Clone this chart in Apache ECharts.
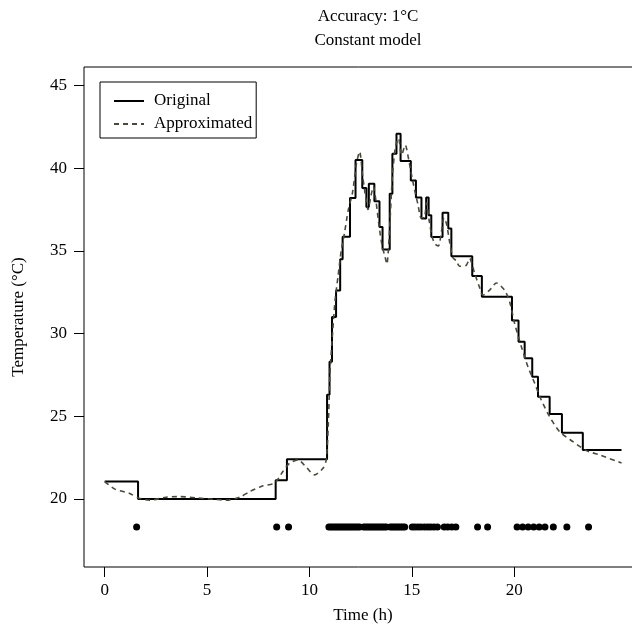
<!DOCTYPE html>
<html>
<head>
<meta charset="utf-8">
<script src="https://cdn.jsdelivr.net/npm/echarts@6/dist/echarts.min.js"></script>
<style>
  html, body { margin: 0; padding: 0; background: #fff; }
  #chart { width: 632px; height: 633px; }
</style>
</head>
<body>
<div id="chart"></div>
<script>
// original sensor signal: time of each change (h) and new value (°C)
const origT = [0, 1.63, 8.35, 8.9, 10.86, 10.98, 11.1, 11.3, 11.5, 11.62,
  11.98, 12.25, 12.58, 12.78, 12.9, 13.17, 13.42, 13.57, 13.92, 14.05,
  14.25, 14.45, 14.95, 15.2, 15.47, 15.7, 15.82, 15.95, 16.5, 16.78,
  16.93, 17.95, 18.42, 19.89, 20.21, 20.51, 20.88, 21.16, 21.73, 22.33,
  23.35, 25.24];
const origV = [21.05, 20.0, 21.12, 22.4, 26.3, 28.3, 31.0, 32.6, 34.5, 35.85,
  38.2, 40.5, 38.8, 37.65, 39.06, 38.0, 36.44, 35.08, 38.46, 40.88,
  42.08, 40.43, 39.26, 38.22, 36.95, 38.22, 37.15, 35.84, 37.31, 36.35,
  34.67, 33.48, 32.22, 30.79, 29.5, 28.5, 27.39, 26.18, 25.13, 24.0,
  22.96, 22.96];

// approximated curve
const approxT = [0, 0.5, 1.2, 1.67, 2.2, 3.0, 3.66, 4.48, 5.3, 5.95,
  6.6, 7.08, 7.73, 8.3, 8.7, 9.03, 9.44, 9.85, 10.25, 10.66,
  10.82, 10.92, 11.0, 11.1, 11.25, 11.4, 11.55, 11.7, 11.9, 12.1,
  12.3, 12.45, 12.6, 12.75, 12.86, 13.0, 13.12, 13.25, 13.4, 13.55,
  13.7, 13.78, 13.9, 14.05, 14.2, 14.35, 14.5, 14.68, 14.85, 15.0,
  15.15, 15.3, 15.45, 15.6, 15.72, 15.85, 16.0, 16.15, 16.3, 16.45,
  16.57, 16.7, 16.85, 17.0, 17.17, 17.33, 17.66, 17.82, 18.07, 18.3,
  18.47, 18.8, 19.13, 19.53, 19.78, 20.02, 20.35, 20.67, 21.0, 21.32,
  21.73, 22.22, 22.87, 23.52, 24.17, 25.24];
const approxV = [21.05, 20.59, 20.34, 20.04, 19.92, 20.1, 20.14, 20.06, 19.98, 19.92,
  20.1, 20.44, 20.79, 20.95, 21.65, 22.16, 22.36, 21.91, 21.45, 21.85,
  22.36, 24.5, 27.5, 29.5, 32.0, 33.5, 35.0, 36.0, 37.5, 38.5,
  40.3, 41.0, 39.5, 38.2, 37.5, 38.3, 38.9, 38.0, 36.5, 35.3,
  34.6, 34.2, 36.0, 39.5, 41.3, 41.8, 40.8, 41.4, 40.5, 39.5,
  38.6, 37.8, 37.0, 37.0, 37.9, 36.8, 35.8, 35.4, 35.3, 36.2,
  37.0, 36.6, 35.5, 34.6, 34.4, 34.07, 34.13, 34.54, 33.63, 32.82,
  32.32, 32.62, 33.06, 32.62, 31.91, 30.61, 29.2, 27.99, 26.99, 25.98,
  24.97, 24.06, 23.46, 22.92, 22.66, 22.17];

// transmission instants (h), drawn as dots at a fixed level
const dotT = [1.56, 8.4, 8.98,
  10.95, 11.05, 11.15, 11.25, 11.35, 11.45, 11.55, 11.65, 11.75, 11.85, 11.95, 12.05, 12.15, 12.25, 12.35, 12.45,
  12.65, 12.75, 12.85, 12.95, 13.05, 13.15, 13.25, 13.35, 13.45, 13.55, 13.65, 13.75,
  13.95, 14.05, 14.15, 14.25, 14.35, 14.45, 14.55, 14.65,
  15.02, 15.15, 15.3, 15.45, 15.62, 15.78, 15.92, 16.08, 16.25,
  16.58, 16.75, 16.95, 17.15,
  18.21, 18.7,
  20.14, 20.41, 20.68, 20.95, 21.22, 21.5, 21.91, 22.57, 23.63];
const dotLevel = 18.3;

const xTicks = [0, 5, 10, 15, 20];
const yTicks = [20, 25, 30, 35, 40, 45];

const FONT = 'Liberation Serif';

const chart = echarts.init(document.getElementById('chart'));

chart.setOption({
  animation: false,
  backgroundColor: '#fff',
  title: {
    text: 'Accuracy: 1°C\nConstant model',
    left: 363,
    top: 0,
    textAlign: 'center',
    textStyle: { fontFamily: FONT, fontSize: 17, fontWeight: 'normal', color: '#000', lineHeight: 24 }
  },
  legend: {
    data: ['Original', 'Approximated'],
    orient: 'vertical',
    left: 100,
    top: 82,
    padding: [9, 4, 4, 13],
    itemWidth: 30,
    itemHeight: 14,
    itemGap: 3,
    borderColor: '#000',
    borderWidth: 1,
    borderRadius: 0,
    backgroundColor: '#fff',
    itemStyle: { opacity: 0 },
    textStyle: { fontFamily: FONT, fontSize: 17, color: '#000', lineHeight: 20, padding: [0, 0, 0, 5] }
  },
  grid: {
    left: 84, top: 67, width: 558, height: 500,
    outerBoundsMode: 'none',
    containLabel: false,
    show: true, borderColor: '#000', borderWidth: 1
  },
  xAxis: {
    type: 'value',
    min: -1.01,
    max: 26.24,
    name: 'Time (h)',
    nameLocation: 'middle',
    nameGap: 40,
    nameTextStyle: { fontFamily: FONT, fontSize: 17, color: '#000' },
    axisLine: { show: false, onZero: false },
    axisTick: { show: true, length: 10, customValues: xTicks, lineStyle: { color: '#000' } },
    axisLabel: { customValues: xTicks, margin: 15, fontFamily: FONT, fontSize: 17, color: '#000' },
    splitLine: { show: false }
  },
  yAxis: {
    type: 'value',
    min: 15.88,
    max: 46.12,
    name: 'Temperature (°C)',
    nameLocation: 'middle',
    nameGap: 57,
    nameTextStyle: { fontFamily: FONT, fontSize: 17, color: '#000' },
    axisLine: { show: false, onZero: false },
    axisTick: { show: true, length: 10, customValues: yTicks, lineStyle: { color: '#000' } },
    axisLabel: { customValues: yTicks, margin: 17, fontFamily: FONT, fontSize: 17, color: '#000' },
    splitLine: { show: false }
  },
  series: [
    {
      name: 'Original',
      type: 'line',
      step: 'end',
      symbol: 'none',
      data: origT.map((t, i) => [t, origV[i]]),
      lineStyle: { color: '#000', width: 2 },
      itemStyle: { color: '#000' },
      z: 2
    },
    {
      name: 'Approximated',
      type: 'line',
      smooth: 0.25,
      symbol: 'none',
      data: approxT.map((t, i) => [t, approxV[i]]),
      lineStyle: { color: '#4a4a3c', width: 1.6, type: [5, 4] },
      itemStyle: { color: '#4a4a3c' },
      z: 3
    },
    {
      name: 'Sent',
      type: 'scatter',
      symbol: 'circle',
      symbolSize: 7,
      data: dotT.map(t => [t, dotLevel]),
      itemStyle: { color: '#000', opacity: 1 },
      z: 4
    }
  ]
});
</script>
</body>
</html>
